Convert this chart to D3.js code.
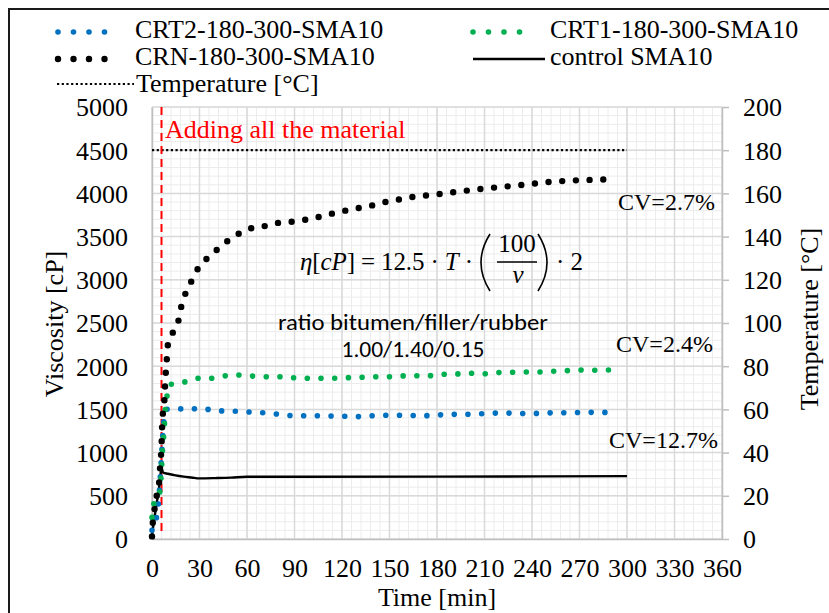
<!DOCTYPE html>
<html>
<head>
<meta charset="utf-8">
<script src="https://cdn.jsdelivr.net/npm/d3@7"></script>
<style>
  body { margin: 0; background: #fff; }
  svg { display: block; }
  text { font-family: "Liberation Serif", "Times New Roman", serif; }
  text.sans { font-family: Carlito, Calibri, Lato, sans-serif; }
</style>
</head>
<body>
<script>
// time [min] / viscosity [cP]
const crnTime = [0, 0.5, 1.3, 2, 3.3, 4.6, 5.1, 5.7, 6.1, 6.5, 7.8, 8.2, 8.7, 9.3, 9.8, 12.8, 16.6, 18.3, 20.8, 24.4, 28.2, 33.3, 39.6, 46.3, 53.5, 61.3, 69.7, 78.3, 87, 95.4, 103.8, 112.3, 120.7, 129, 137.7, 146.1, 154.5, 163.1, 180.4, 197.7, 214.9, 232.2, 249.5, 266.7, 284, 292.6];
const crnVisc = [30, 190, 300, 405, 530, 675, 830, 970, 1125, 1360, 1600, 1755, 1920, 2065, 2225, 2375, 2520, 2675, 2825, 2965, 3105, 3220, 3325, 3430, 3520, 3590, 3615, 3655, 3670, 3690, 3720, 3760, 3795, 3825, 3855, 3895, 3925, 3955, 3990, 4030, 4065, 4095, 4130, 4150, 4160, 4165];

const crt1Time = [0, 1, 3, 4.6, 6.1, 6.5, 7.2, 7.8, 8.2, 9.3, 10.9, 15.6, 21.5, 29, 36.6, 45.5, 54, 62.3, 71.4, 79.8, 88.6, 97.5, 106, 114.5, 123, 131.8, 140.4, 149.2, 157.7, 166.5, 175, 184, 192.4, 201, 209.7, 218.3, 227, 235.8, 244.4, 253, 261.7, 270.3, 279, 287.6, 296];
const crt1Visc = [250, 400, 460, 510, 840, 990, 1146, 1300, 1447, 1628, 1782, 1802, 1821, 1860, 1860, 1887, 1898, 1887, 1878, 1878, 1867, 1860, 1860, 1860, 1867, 1871, 1878, 1878, 1887, 1890, 1890, 1906, 1910, 1918, 1913, 1925, 1929, 1933, 1933, 1941, 1948, 1956, 1953, 1956, 1959];

const crt2Time = [0, 2, 4, 5, 6, 7, 8, 9, 11, 16, 24, 32, 40, 49, 58, 66, 75, 83, 92, 101, 110, 118, 127, 135, 144, 152, 161, 170, 179, 187, 196, 205, 213, 222, 230, 239, 248, 257, 265, 274, 283, 291];
const crt2Visc = [100, 190, 400, 650, 950, 1250, 1450, 1500, 1505, 1505, 1508, 1508, 1485, 1481, 1473, 1466, 1455, 1435, 1427, 1427, 1424, 1424, 1416, 1420, 1432, 1432, 1432, 1427, 1432, 1443, 1443, 1447, 1455, 1458, 1455, 1452, 1458, 1462, 1462, 1466, 1466, 1462];

const ctrlTime = [0, 1, 2, 3, 4, 5, 6, 7, 10, 14, 20, 25, 30, 40, 50, 60, 90, 180, 300];
const ctrlVisc = [40, 180, 300, 420, 530, 680, 820, 770, 755, 740, 722, 712, 702, 705, 710, 720, 720, 722, 728];

const tempTime = [0, 300];
const tempVal = [180, 180];

const addTime = 6;

const xTicks = [0, 30, 60, 90, 120, 150, 180, 210, 240, 270, 300, 330, 360];
const yTicks = [0, 500, 1000, 1500, 2000, 2500, 3000, 3500, 4000, 4500, 5000];
const yRTicks = [0, 20, 40, 60, 80, 100, 120, 140, 160, 180, 200];

const svg = d3.select("body").append("svg")
  .attr("width", 829)
  .attr("height", 613);

svg.append("rect")
  .attr("width", 829).attr("height", 613)
  .attr("fill", "#fff");

// outer frame of the figure (cropped right / bottom)
svg.append("rect")
  .attr("x", 9).attr("y", 9)
  .attr("width", 900).attr("height", 700)
  .attr("fill", "none")
  .attr("stroke", "#1a1a1a")
  .attr("stroke-width", 2);

const x = d3.scaleLinear().domain([0, 360]).range([152, 722]);
const y = d3.scaleLinear().domain([0, 5000]).range([539, 107]);
const yR = d3.scaleLinear().domain([0, 200]).range([539, 107]);

// grid
const grid = svg.append("g");
grid.selectAll(".vmin")
  .data(d3.range(0, 361, 6))
  .enter().append("line")
  .attr("x1", d => x(d)).attr("x2", d => x(d))
  .attr("y1", y(0)).attr("y2", y(5000))
  .attr("stroke", "#ececec").attr("stroke-width", 1);
grid.selectAll(".hmin")
  .data(d3.range(0, 5001, 100))
  .enter().append("line")
  .attr("x1", x(0)).attr("x2", x(360))
  .attr("y1", d => y(d)).attr("y2", d => y(d))
  .attr("stroke", "#ececec").attr("stroke-width", 1);
grid.selectAll(".vmaj")
  .data(xTicks)
  .enter().append("line")
  .attr("x1", d => x(d)).attr("x2", d => x(d))
  .attr("y1", y(0)).attr("y2", y(5000))
  .attr("stroke", "#d9d9d9").attr("stroke-width", 1.5);
grid.selectAll(".hmaj")
  .data(yTicks)
  .enter().append("line")
  .attr("x1", x(0)).attr("x2", x(360))
  .attr("y1", d => y(d)).attr("y2", d => y(d))
  .attr("stroke", "#d9d9d9").attr("stroke-width", 1.5);

// axes
function styleAxis(g) {
  g.attr("font-family", null);
  g.selectAll("text")
    .style("font-family", "'Liberation Serif', 'Times New Roman', serif")
    .attr("font-size", 26)
    .attr("fill", "#000");
  g.select(".domain").attr("stroke", "#bfbfbf").attr("stroke-width", 1.5);
  g.selectAll(".tick line").attr("stroke", "#bfbfbf").attr("stroke-width", 1.5);
}

svg.append("g")
  .attr("transform", "translate(0," + y(0) + ")")
  .call(d3.axisBottom(x).tickValues(xTicks).tickFormat(d3.format("d"))
    .tickSize(0).tickSizeOuter(0).tickPadding(20))
  .call(styleAxis);

svg.append("g")
  .attr("transform", "translate(" + x(0) + ",0)")
  .call(d3.axisLeft(y).tickValues(yTicks).tickFormat(d3.format("d"))
    .tickSize(0).tickSizeOuter(0).tickPadding(24))
  .call(styleAxis)
  .call(g => g.selectAll("text").attr("dy", "0.34em"));

svg.append("g")
  .attr("transform", "translate(" + x(360) + ",0)")
  .call(d3.axisRight(yR).tickValues(yRTicks).tickFormat(d3.format("d"))
    .tickSize(7).tickSizeOuter(0).tickPadding(14))
  .call(styleAxis)
  .call(g => g.selectAll("text").attr("dy", "0.34em"));

// axis titles
svg.append("text")
  .attr("x", 437).attr("y", 606)
  .attr("text-anchor", "middle")
  .attr("font-size", 26)
  .text("Time [min]");

svg.append("text")
  .attr("transform", "translate(63,324) rotate(-90)")
  .attr("text-anchor", "middle")
  .attr("font-size", 26)
  .text("Viscosity [cP]");

svg.append("text")
  .attr("transform", "translate(818,319) rotate(-90)")
  .attr("text-anchor", "middle")
  .attr("font-size", 26)
  .text("Temperature [°C]");

// series
const toPoints = (ts, vs) => ts.map((t, i) => ({ t: t, v: vs[i] }));

const line = d3.line()
  .x(d => x(d.t))
  .y(d => y(d.v))
  .curve(d3.curveMonotoneX);

const lineR = d3.line()
  .x(d => x(d.t))
  .y(d => yR(d.v));

const plot = svg.append("g");

// temperature on the right axis
plot.append("path")
  .datum(toPoints(tempTime, tempVal))
  .attr("d", lineR)
  .attr("fill", "none")
  .attr("stroke", "#000")
  .attr("stroke-width", 2.2)
  .attr("stroke-dasharray", "2.2 2.5");

// moment of adding the material
plot.append("line")
  .attr("x1", x(addTime)).attr("x2", x(addTime))
  .attr("y1", y(5000)).attr("y2", y(80))
  .attr("stroke", "#ff0000")
  .attr("stroke-width", 2)
  .attr("stroke-dasharray", "8 5");

plot.append("path")
  .datum(toPoints(ctrlTime, ctrlVisc))
  .attr("d", line)
  .attr("fill", "none")
  .attr("stroke", "#000")
  .attr("stroke-width", 2.4);

const dotted = [
  { time: crt2Time, visc: crt2Visc, color: "#0070c0", width: 5.6 },
  { time: crt1Time, visc: crt1Visc, color: "#00b050", width: 5.6 },
  { time: crnTime, visc: crnVisc, color: "#000000", width: 6.4 }
];

dotted.forEach(s => {
  plot.append("path")
    .datum(toPoints(s.time, s.visc))
    .attr("d", line)
    .attr("fill", "none")
    .attr("stroke", s.color)
    .attr("stroke-width", s.width)
    .attr("stroke-linecap", "round")
    .attr("stroke-dasharray", "0 13.7");
});

// annotations
svg.append("text")
  .attr("x", 165).attr("y", 138)
  .attr("font-size", 26)
  .attr("fill", "#ff0000")
  .text("Adding all the material");

const cv = [
  { label: "CV=2.7%", x: 618, y: 210 },
  { label: "CV=2.4%", x: 616, y: 352 },
  { label: "CV=12.7%", x: 609, y: 448 }
];
svg.selectAll(".cv")
  .data(cv)
  .enter().append("text")
  .attr("x", d => d.x).attr("y", d => d.y)
  .attr("font-size", 24)
  .text(d => d.label);

// formula
const f = svg.append("g")
  .attr("font-size", 25)
  .attr("fill", "#000");

const f1 = f.append("text")
  .attr("x", 300).attr("y", 270)
  .attr("textLength", 173)
  .attr("lengthAdjust", "spacing");
f1.append("tspan").attr("font-style", "italic").text("η");
f1.append("tspan").text("[");
f1.append("tspan").attr("font-style", "italic").text("cP");
f1.append("tspan").text("] = 12.5 · ");
f1.append("tspan").attr("font-style", "italic").text("T");
f1.append("tspan").text(" ·");

f.append("path")
  .attr("d", "M490,234 Q472,262.5 490,291")
  .attr("fill", "none").attr("stroke", "#000").attr("stroke-width", 1.6);
f.append("path")
  .attr("d", "M538,234 Q556,262.5 538,291")
  .attr("fill", "none").attr("stroke", "#000").attr("stroke-width", 1.6);
f.append("text")
  .attr("x", 517).attr("y", 252)
  .attr("text-anchor", "middle")
  .text("100");
f.append("line")
  .attr("x1", 497).attr("x2", 537)
  .attr("y1", 262).attr("y2", 262)
  .attr("stroke", "#000").attr("stroke-width", 1.4);
f.append("text")
  .attr("x", 518).attr("y", 283)
  .attr("text-anchor", "middle")
  .attr("font-style", "italic")
  .text("v");
f.append("text")
  .attr("x", 556).attr("y", 270)
  .text("· 2");

svg.append("text")
  .attr("class", "sans")
  .attr("x", 413).attr("y", 330)
  .attr("text-anchor", "middle")
  .attr("font-size", 22)
  .attr("textLength", 270).attr("lengthAdjust", "spacingAndGlyphs")
  .text("ratio bitumen/filler/rubber");

svg.append("text")
  .attr("class", "sans")
  .attr("x", 413).attr("y", 357)
  .attr("text-anchor", "middle")
  .attr("font-size", 22)
  .attr("textLength", 143).attr("lengthAdjust", "spacingAndGlyphs")
  .text("1.00/1.40/0.15");

// legend
const legend = [
  { label: "CRT2-180-300-SMA10", x1: 58, x2: 120, ly: 32, tx: 135, ty: 38, color: "#0070c0", width: 5.6, dash: "0 15.5", cap: "round" },
  { label: "CRT1-180-300-SMA10", x1: 473, x2: 535, ly: 32, tx: 550, ty: 38, color: "#00b050", width: 5.6, dash: "0 15.5", cap: "round" },
  { label: "CRN-180-300-SMA10", x1: 58, x2: 120, ly: 59, tx: 135, ty: 65, color: "#000", width: 6.4, dash: "0 15.5", cap: "round" },
  { label: "control SMA10", x1: 473, x2: 545, ly: 59, tx: 550, ty: 65, color: "#000", width: 2.4, dash: null, cap: "butt" },
  { label: "Temperature [°C]", x1: 57, x2: 134, ly: 84, tx: 136, ty: 92, color: "#000", width: 2.2, dash: "2.2 2.5", cap: "butt" }
];

const lg = svg.append("g");
legend.forEach(d => {
  lg.append("line")
    .attr("x1", d.x1).attr("x2", d.x2)
    .attr("y1", d.ly).attr("y2", d.ly)
    .attr("stroke", d.color)
    .attr("stroke-width", d.width)
    .attr("stroke-linecap", d.cap)
    .attr("stroke-dasharray", d.dash);
  lg.append("text")
    .attr("x", d.tx).attr("y", d.ty)
    .attr("font-size", 26)
    .text(d.label);
});
</script>
</body>
</html>
